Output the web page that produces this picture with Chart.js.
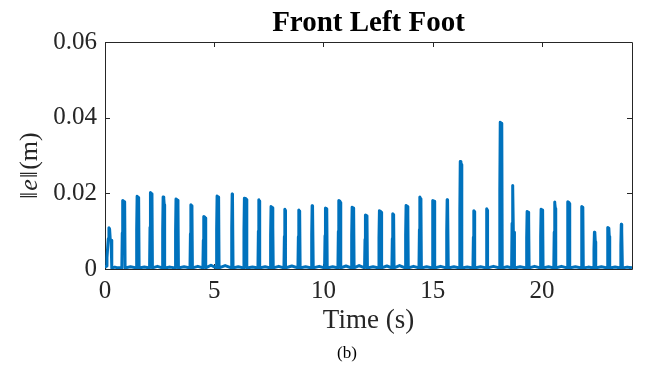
<!DOCTYPE html>
<html>
<head>
<meta charset="utf-8">
<script src="https://cdn.jsdelivr.net/npm/chart.js@4.4.0/dist/chart.umd.min.js"></script>
<style>
  html, body { margin: 0; padding: 0; background: #ffffff; }
  canvas { display: block; }
</style>
</head>
<body>
<canvas id="c" width="645" height="378"></canvas>
<script>
// Foot position error norm over time, one pulse per swing phase of the front left foot.
const timeSec = [
  0.00, 0.05, 0.09, 0.12, 0.15, 0.18, 0.21, 0.24, 0.28, 0.31, 0.45, 0.58,
  0.77, 0.79, 0.81, 0.88, 0.90, 0.92, 1.17,
  1.43, 1.45, 1.47, 1.52, 1.54, 1.56, 1.80,
  2.04, 2.06, 2.08, 2.13, 2.15, 2.17, 2.40,
  2.62, 2.64, 2.66, 2.69, 2.71, 2.73, 2.98,
  3.21, 3.23, 3.25, 3.32, 3.34, 3.36, 3.62,
  3.89, 3.91, 3.93, 3.96, 3.98, 4.00, 4.25,
  4.48, 4.50, 4.52, 4.57, 4.59, 4.61, 4.85,
  5.09, 5.11, 5.13, 5.18, 5.20, 5.22, 5.50,
  5.78, 5.80, 5.82, 5.83, 5.84, 5.86, 6.10,
  6.34, 6.36, 6.38, 6.45, 6.47, 6.49, 6.75,
  7.00, 7.02, 7.04, 7.05, 7.07, 7.09, 7.33,
  7.56, 7.58, 7.60, 7.66, 7.68, 7.70, 7.95,
  8.19, 8.21, 8.23, 8.24, 8.25, 8.27, 8.55,
  8.83, 8.85, 8.87, 8.89, 8.91, 8.93, 9.18,
  9.44, 9.46, 9.48, 9.49, 9.51, 9.53, 9.80,
  10.05, 10.07, 10.09, 10.13, 10.15, 10.17, 10.42,
  10.66, 10.68, 10.70, 10.75, 10.77, 10.79, 11.03,
  11.27, 11.29, 11.31, 11.36, 11.38, 11.40, 11.63,
  11.88, 11.90, 11.92, 11.97, 11.99, 12.01, 12.27,
  12.52, 12.54, 12.56, 12.62, 12.64, 12.66, 12.90,
  13.13, 13.15, 13.17, 13.19, 13.21, 13.23, 13.48,
  13.74, 13.76, 13.78, 13.84, 13.86, 13.88, 14.12,
  14.37, 14.39, 14.41, 14.44, 14.46, 14.48, 14.72,
  14.97, 14.99, 15.01, 15.06, 15.08, 15.10, 15.36,
  15.62, 15.64, 15.66, 15.67, 15.69, 15.71, 15.97,
  16.22, 16.24, 16.26, 16.29, 16.31, 16.33, 16.58,
  16.84, 16.86, 16.88, 16.89, 16.91, 16.93, 17.19,
  17.44, 17.46, 17.47, 17.48, 17.50, 17.51, 17.78,
  18.05, 18.07, 18.09, 18.14, 18.16, 18.18, 18.41,
  18.61, 18.63, 18.65, 18.67, 18.69, 18.72, 18.74, 19.00,
  19.28, 19.30, 19.32, 19.37, 19.39, 19.41, 19.66,
  19.92, 19.94, 19.96, 20.01, 20.03, 20.05, 20.30,
  20.54, 20.56, 20.58, 20.59, 20.61, 20.63, 20.89,
  21.15, 21.17, 21.19, 21.23, 21.25, 21.27, 21.53,
  21.79, 21.81, 21.83, 21.85, 21.87, 21.89, 22.12,
  22.36, 22.38, 22.40, 22.42, 22.44, 22.46, 22.72,
  22.98, 23.00, 23.02, 23.06, 23.08, 23.10, 23.35,
  23.59, 23.61, 23.63, 23.64, 23.66, 23.68, 23.90, 24.12
];
const errNorm = [
  0.0003, 0.0008, 0.0030, 0.0055, 0.0080, 0.0109, 0.0106, 0.0078, 0.0076, 0.0003, 0.0005, 0.0003,
  0.0003, 0.0095, 0.0181, 0.0178, 0.0176, 0.0003, 0.0006,
  0.0003, 0.0105, 0.0192, 0.0189, 0.0186, 0.0003, 0.0005,
  0.0003, 0.0110, 0.0202, 0.0199, 0.0195, 0.0003, 0.0007,
  0.0003, 0.0104, 0.0190, 0.0186, 0.0170, 0.0003, 0.0005,
  0.0003, 0.0100, 0.0185, 0.0182, 0.0170, 0.0003, 0.0006,
  0.0003, 0.0093, 0.0170, 0.0167, 0.0154, 0.0003, 0.0007,
  0.0003, 0.0076, 0.0139, 0.0137, 0.0135, 0.0003, 0.0010,
  0.0003, 0.0106, 0.0193, 0.0190, 0.0187, 0.0003, 0.0009,
  0.0003, 0.0108, 0.0198, 0.0195, 0.0192, 0.0003, 0.0006,
  0.0003, 0.0102, 0.0187, 0.0186, 0.0184, 0.0003, 0.0005,
  0.0003, 0.0100, 0.0183, 0.0180, 0.0176, 0.0003, 0.0006,
  0.0003, 0.0090, 0.0165, 0.0162, 0.0112, 0.0003, 0.0007,
  0.0003, 0.0086, 0.0158, 0.0155, 0.0112, 0.0003, 0.0008,
  0.0003, 0.0085, 0.0156, 0.0153, 0.0150, 0.0003, 0.0006,
  0.0003, 0.0091, 0.0167, 0.0165, 0.0162, 0.0003, 0.0007,
  0.0003, 0.0088, 0.0161, 0.0159, 0.0156, 0.0003, 0.0006,
  0.0003, 0.0099, 0.0181, 0.0179, 0.0176, 0.0003, 0.0008,
  0.0003, 0.0089, 0.0163, 0.0161, 0.0158, 0.0003, 0.0009,
  0.0003, 0.0078, 0.0143, 0.0141, 0.0139, 0.0003, 0.0006,
  0.0003, 0.0084, 0.0154, 0.0152, 0.0150, 0.0003, 0.0008,
  0.0003, 0.0080, 0.0146, 0.0144, 0.0141, 0.0003, 0.0009,
  0.0003, 0.0092, 0.0168, 0.0165, 0.0149, 0.0003, 0.0007,
  0.0003, 0.0104, 0.0190, 0.0186, 0.0174, 0.0003, 0.0006,
  0.0003, 0.0099, 0.0181, 0.0179, 0.0176, 0.0003, 0.0007,
  0.0003, 0.0100, 0.0183, 0.0181, 0.0178, 0.0003, 0.0006,
  0.0003, 0.0155, 0.0284, 0.0281, 0.0276, 0.0003, 0.0005,
  0.0003, 0.0084, 0.0154, 0.0152, 0.0149, 0.0003, 0.0006,
  0.0003, 0.0125, 0.0130, 0.0159, 0.0155, 0.0003, 0.0007,
  0.0003, 0.0210, 0.0388, 0.0385, 0.0378, 0.0003, 0.0006,
  0.0003, 0.0120, 0.0221, 0.0216, 0.0099, 0.0097, 0.0003, 0.0006,
  0.0003, 0.0083, 0.0152, 0.0150, 0.0130, 0.0003, 0.0007,
  0.0003, 0.0087, 0.0158, 0.0156, 0.0153, 0.0003, 0.0006,
  0.0003, 0.0097, 0.0177, 0.0174, 0.0160, 0.0003, 0.0007,
  0.0003, 0.0098, 0.0178, 0.0176, 0.0173, 0.0003, 0.0006,
  0.0003, 0.0091, 0.0165, 0.0163, 0.0160, 0.0003, 0.0005,
  0.0003, 0.0053, 0.0097, 0.0095, 0.0072, 0.0003, 0.0006,
  0.0003, 0.0060, 0.0110, 0.0108, 0.0086, 0.0003, 0.0005,
  0.0003, 0.0065, 0.0118, 0.0115, 0.0099, 0.0003, 0.0005, 0.0003
];

const xTicks = [0, 5, 10, 15, 20];
const xTickLabels = ['0', '5', '10', '15', '20'];
const yTicks = [0, 0.02, 0.04, 0.06];
const yTickLabels = ['0', '0.02', '0.04', '0.06'];
const xRange = [0, 24.12];
const yRange = [0, 0.06];

const titleText = 'Front Left Foot';
const xTitleText = 'Time (s)';
const captionText = '(b)';

const SERIF = "'Liberation Serif', 'Times New Roman', serif";
const AXIS_COLOR = '#262626';
const LINE_COLOR = '#0072BD';

const points = timeSec.map((t, i) => ({ x: t, y: errNorm[i] }));

// Axes box with inward tick marks on all four sides, plus title, y label and caption.
const axesBox = {
  id: 'axesBox',
  beforeDatasetsDraw(chart) {
    const { ctx, chartArea: a, scales } = chart;
    const len = 5;
    ctx.save();
    ctx.strokeStyle = AXIS_COLOR;
    ctx.lineWidth = 1;
    ctx.beginPath();
    ctx.rect(Math.round(a.left) + 0.5, Math.round(a.top) + 0.5,
             Math.round(a.right - a.left), Math.round(a.bottom - a.top));
    xTicks.forEach(v => {
      const px = Math.round(scales.x.getPixelForValue(v)) + 0.5;
      ctx.moveTo(px, a.bottom); ctx.lineTo(px, a.bottom - len);
      ctx.moveTo(px, a.top); ctx.lineTo(px, a.top + len);
    });
    yTicks.forEach(v => {
      const py = Math.round(scales.y.getPixelForValue(v)) + 0.5;
      ctx.moveTo(a.left, py); ctx.lineTo(a.left + len, py);
      ctx.moveTo(a.right, py); ctx.lineTo(a.right - len, py);
    });
    ctx.stroke();
    ctx.restore();
  },
  afterDraw(chart) {
    const { ctx, chartArea: a } = chart;
    ctx.save();
    ctx.fillStyle = '#000000';
    ctx.font = `bold 29px ${SERIF}`;
    ctx.textAlign = 'center';
    ctx.textBaseline = 'alphabetic';
    ctx.fillText(titleText, (a.left + a.right) / 2, 31);

    // ‖e‖(m) with an italic e, reading bottom to top
    ctx.fillStyle = AXIS_COLOR;
    ctx.translate(37, 199);
    ctx.rotate(-Math.PI / 2);
    ctx.textAlign = 'left';
    const parts = [
      ['‖', `26px ${SERIF}`],
      ['e', `italic 26px ${SERIF}`],
      ['‖', `26px ${SERIF}`],
      ['(m)', `26px ${SERIF}`]
    ];
    let x = 0;
    parts.forEach(([txt, font]) => {
      ctx.font = font;
      ctx.fillText(txt, x, 0);
      x += ctx.measureText(txt).width + 1;
    });
    ctx.restore();

    ctx.save();
    ctx.fillStyle = '#000000';
    ctx.font = `17px ${SERIF}`;
    ctx.textAlign = 'center';
    ctx.textBaseline = 'middle';
    ctx.fillText(captionText, 347, 354);
    ctx.restore();
  }
};

new Chart(document.getElementById('c'), {
  type: 'line',
  data: {
    datasets: [{
      data: points,
      borderColor: LINE_COLOR,
      borderWidth: 3,
      borderJoinStyle: 'round',
      pointRadius: 0,
      tension: 0,
      fill: false
    }]
  },
  options: {
    responsive: false,
    animation: false,
    parsing: false,
    layout: { padding: { left: 0, right: 13, top: 42, bottom: 0 } },
    plugins: { legend: { display: false }, tooltip: { enabled: false }, title: { display: false } },
    scales: {
      x: {
        type: 'linear',
        min: xRange[0],
        max: xRange[1],
        afterBuildTicks: s => { s.ticks = xTicks.map(v => ({ value: v })); },
        afterFit: s => { s.height = 109; },
        grid: { display: false, drawTicks: false },
        border: { display: false },
        ticks: {
          autoSkip: false,
          maxRotation: 0,
          padding: 7,
          color: AXIS_COLOR,
          font: { family: SERIF, size: 25 },
          callback: v => xTickLabels[xTicks.indexOf(v)]
        },
        title: {
          display: true,
          text: xTitleText,
          color: AXIS_COLOR,
          font: { family: SERIF, size: 27 },
          padding: { top: 0, bottom: 41 }
        }
      },
      y: {
        type: 'linear',
        min: yRange[0],
        max: yRange[1],
        afterBuildTicks: s => { s.ticks = yTicks.map(v => ({ value: v })); },
        afterFit: s => { s.width = 105; },
        grid: { display: false, drawTicks: false },
        border: { display: false },
        ticks: {
          padding: 8,
          color: AXIS_COLOR,
          font: { family: SERIF, size: 25 },
          callback: v => yTickLabels[yTicks.indexOf(v)]
        }
      }
    }
  },
  plugins: [axesBox]
});
</script>
</body>
</html>
